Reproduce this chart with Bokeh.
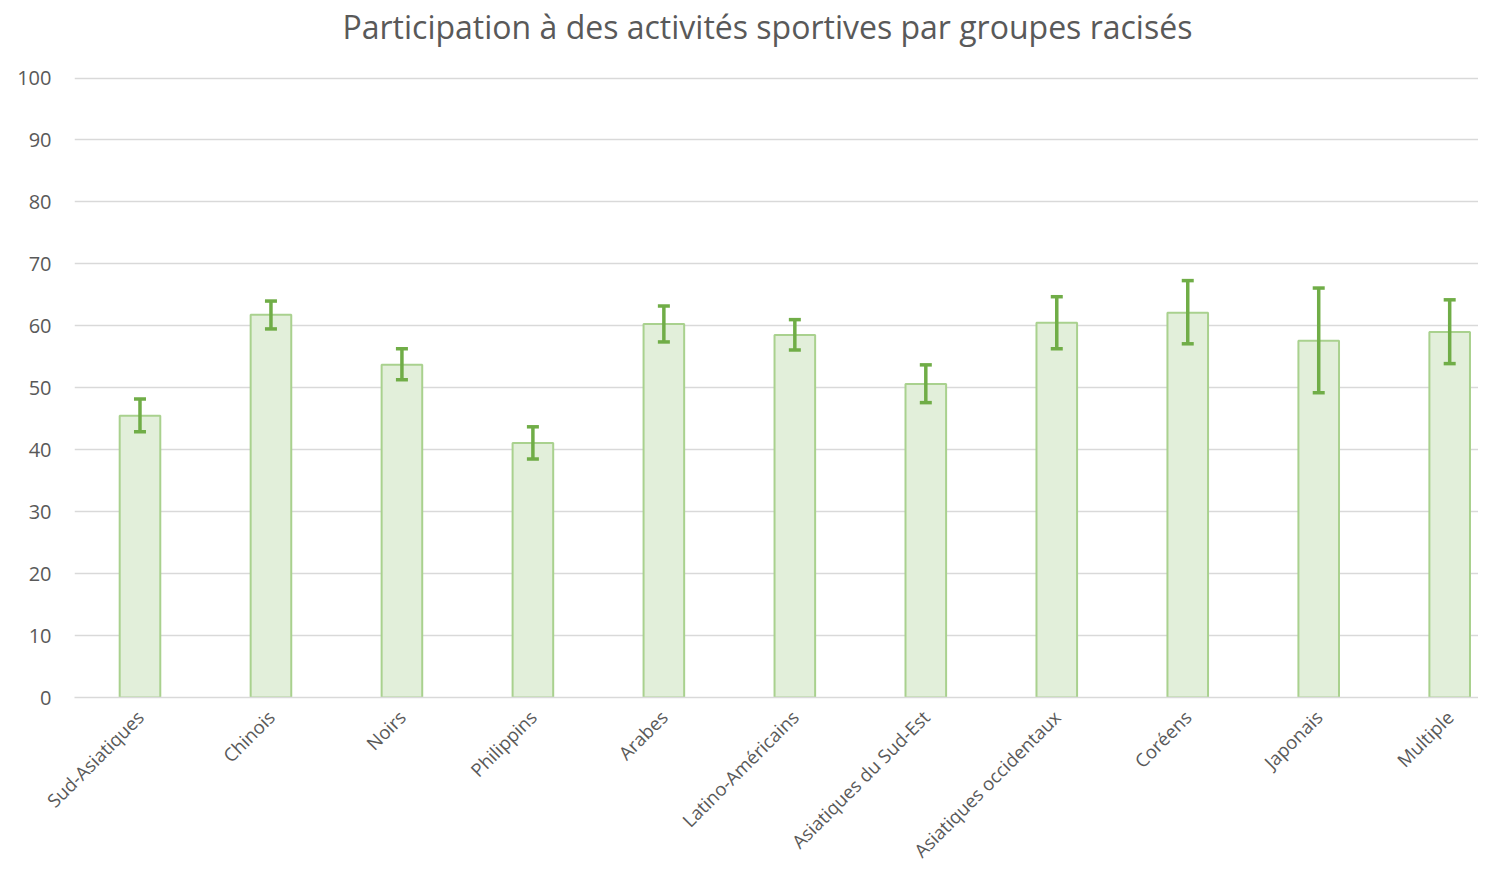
import math
from bokeh.plotting import figure
from bokeh.models import ColumnDataSource, Whisker, TeeHead, FixedTicker, Range1d, Title
from bokeh.embed import file_html
from bokeh.resources import INLINE

title_text = "Participation à des activités sportives par groupes racisés"
categories = ["Sud-Asiatiques", "Chinois", "Noirs", "Philippins", "Arabes",
              "Latino-Américains", "Asiatiques du Sud-Est", "Asiatiques occidentaux",
              "Coréens", "Japonais", "Multiple"]
values = [45.5, 61.8, 53.7, 41.1, 60.3, 58.5, 50.6, 60.5, 62.1, 57.6, 59.0]
err_high = [48.2, 64.0, 56.3, 43.7, 63.2, 61.0, 53.7, 64.7, 67.3, 66.1, 64.2]
err_low = [42.9, 59.5, 51.3, 38.5, 57.4, 56.1, 47.6, 56.3, 57.1, 49.2, 53.9]
y_ticks = [0, 10, 20, 30, 40, 50, 60, 70, 80, 90, 100]

xs = list(range(len(categories)))
src = ColumnDataSource(dict(x=xs, top=values, upper=err_high, lower=err_low))

FONT = "Open Sans"
TXT = "#595959"

p = figure(width=1478, height=874, output_backend="svg", toolbar_location=None,
           x_range=Range1d(-0.5, 10.22), y_range=Range1d(0, 100.25),
           min_border_left=74, min_border_right=0, min_border_top=76,
           min_border_bottom=177)

# spacer between plot area and title (nearest the frame)
p.add_layout(Title(text=" ", text_font_size="10px", standoff=16), "above")
p.add_layout(Title(text=title_text, align="left", offset=268, standoff=0,
                   text_font=FONT, text_font_size="32px", text_font_style="normal",
                   text_color=TXT), "above")

p.vbar(x="x", top="top", width=0.31, source=src, fill_color="#e2efda",
       line_color="#a9d18e", line_width=2)

w = Whisker(base="x", upper="upper", lower="lower", source=src,
            line_color="#70ad47", line_width=3.5, level="overlay",
            upper_head=TeeHead(size=12, line_color="#70ad47", line_width=3.5),
            lower_head=TeeHead(size=12, line_color="#70ad47", line_width=3.5))
p.add_layout(w)

p.outline_line_color = None
p.xgrid.grid_line_color = None
p.ygrid.grid_line_color = "#d9d9d9"
p.ygrid.grid_line_width = 1.5

p.yaxis.ticker = FixedTicker(ticks=y_ticks)
p.yaxis.axis_line_color = None
p.yaxis.major_tick_line_color = None
p.yaxis.major_tick_out = 0
p.yaxis.minor_tick_line_color = None
p.yaxis.minor_tick_out = 0
p.yaxis.major_label_text_font = FONT
p.yaxis.major_label_text_font_size = "20px"
p.yaxis.major_label_text_color = TXT
p.yaxis.major_label_standoff = 23

p.xaxis.ticker = FixedTicker(ticks=xs)
p.xaxis.major_label_overrides = {i: c for i, c in enumerate(categories)}
p.xaxis.major_label_orientation = math.pi / 4
p.xaxis.axis_line_color = "#d9d9d9"
p.xaxis.axis_line_width = 1.5
p.xaxis.major_tick_line_color = None
p.xaxis.major_tick_out = 0
p.xaxis.minor_tick_line_color = None
p.xaxis.minor_tick_out = 0
p.xaxis.major_label_text_font = FONT
p.xaxis.major_label_text_font_size = "18.5px"
p.xaxis.major_label_text_color = TXT
p.xaxis.major_label_standoff = 16

open("out.html", "w").write(file_html(p, INLINE))
